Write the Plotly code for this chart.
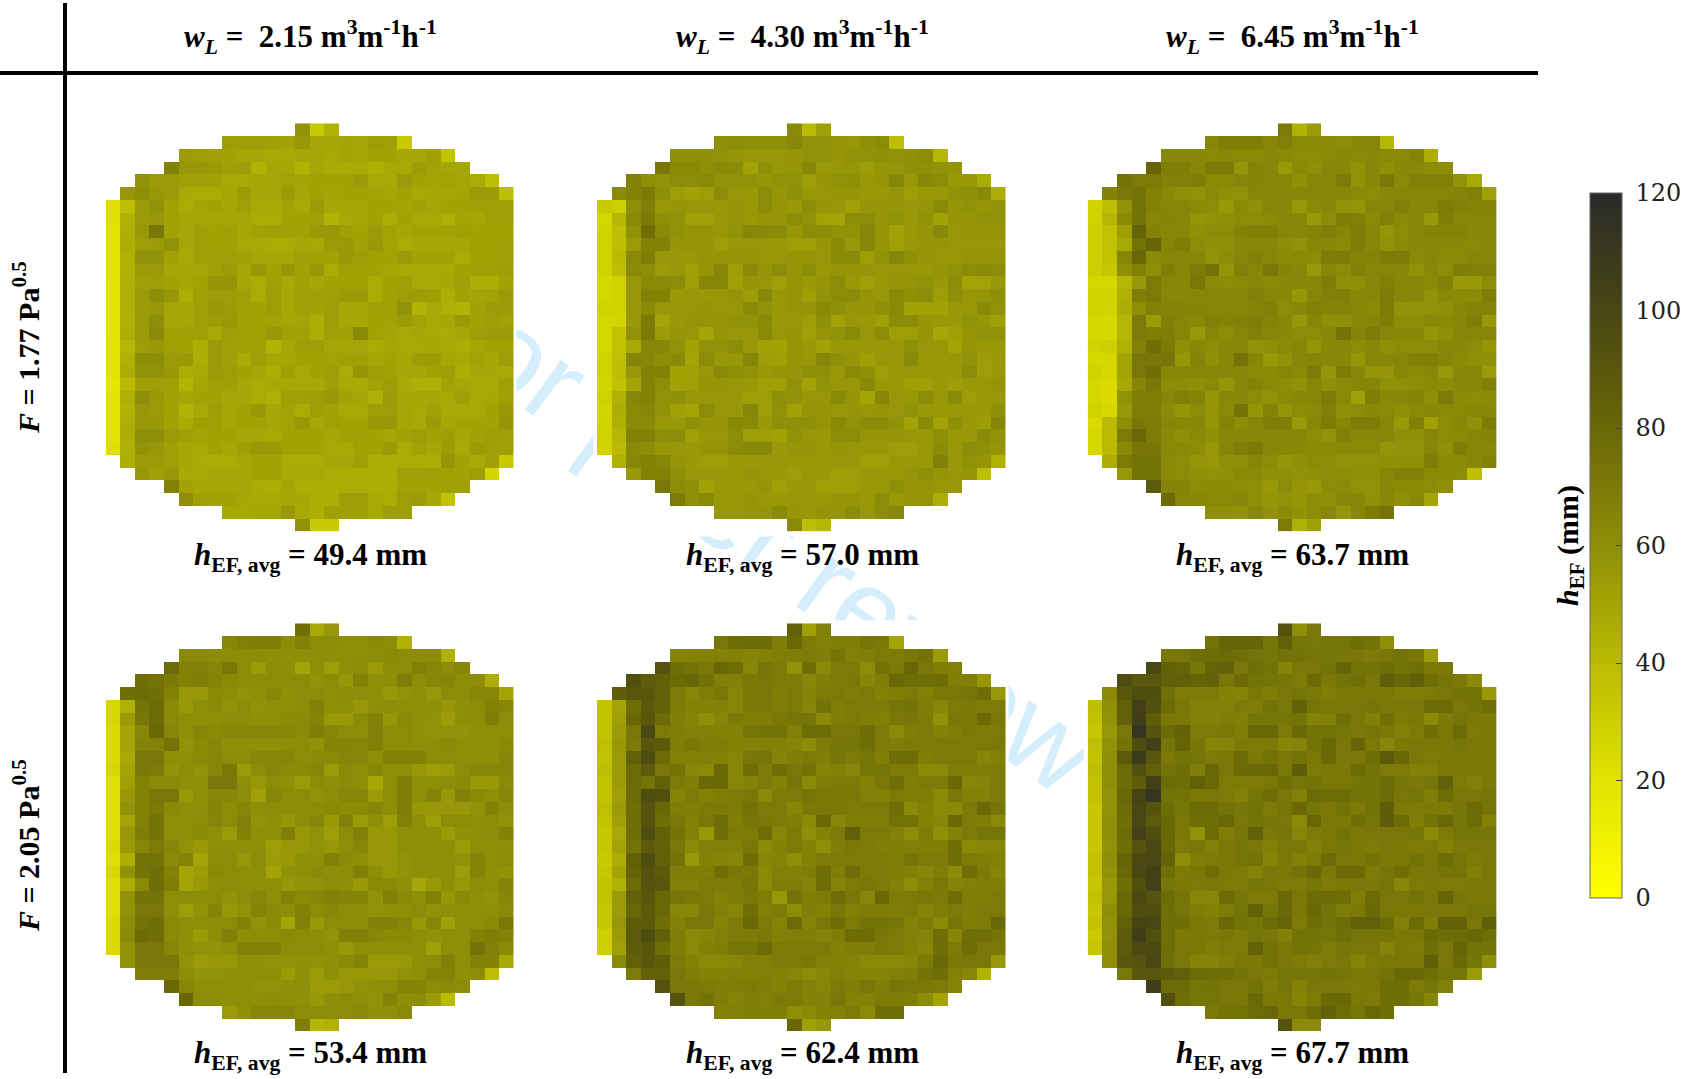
import plotly.graph_objects as go

W, H = 1690, 1079

ROW_START = [13,8,5,4,2,1]+[0]*20+[1,2,4,5,8,13]

COL_LABELS = ["2.15", "4.30", "6.45"]
ROW_LABELS = ["1.77", "2.05"]
AVG_LABELS = [["49.4", "57.0", "63.7"], ["53.4", "62.4", "67.7"]]
CB_TICKS = [0, 20, 40, 60, 80, 100, 120]

F177_W215 = [
[58,33,44],
[53,53,53,52,51,55,49,49,50,49,53,52,33],
[54,53,52,51,49,49,48,48,49,49,48,50,49,51,51,49,49,52,36],
[66,56,56,54,52,53,43,49,49,43,49,47,47,47,45,48,48,53,51,49,49],
[58,54,54,52,52,51,48,48,49,49,51,50,51,51,51,54,48,48,54,51,50,51,49,47,38],
[56,60,56,54,48,47,47,49,54,49,49,54,49,51,50,51,51,50,49,51,48,49,49,50,54,54,38],
[22,38,54,58,51,47,50,51,49,52,48,48,51,48,54,49,49,49,51,51,50,51,49,51,51,52,52,52],
[22,44,54,56,51,49,49,49,49,49,47,47,51,51,52,43,48,49,51,46,51,48,48,45,50,49,52,52],
[20,46,55,72,51,49,52,51,52,49,51,52,52,51,55,55,52,51,54,51,49,51,51,51,52,51,51,51],
[20,46,53,54,58,49,52,51,51,48,48,47,47,49,48,54,55,51,55,50,47,49,49,49,49,51,51,52],
[20,44,58,58,51,48,52,52,52,51,49,49,49,52,51,51,55,53,51,51,54,51,51,51,47,51,51,52],
[20,44,54,54,49,49,49,52,54,49,56,51,56,51,56,47,52,51,51,49,48,48,48,48,51,52,52,53],
[19,45,52,53,51,49,51,57,57,49,47,52,48,51,49,51,51,51,47,51,52,48,48,49,52,46,46,51],
[19,46,54,60,56,46,52,53,53,52,47,53,48,52,52,52,54,54,47,51,53,53,52,46,51,50,51,54],
[19,45,54,56,49,49,52,55,54,52,51,53,48,52,51,53,49,49,52,51,58,43,48,45,43,51,54,54],
[19,44,54,60,49,49,52,53,55,51,51,51,49,50,46,53,49,49,51,51,54,51,48,49,54,51,53,51],
[19,46,54,62,51,52,52,48,53,52,51,55,52,51,46,52,52,62,51,50,48,49,48,47,49,53,54,54],
[20,42,53,55,52,51,46,54,52,51,52,43,49,53,53,49,49,49,47,49,48,48,49,48,46,49,51,51],
[20,44,60,60,54,55,46,54,52,47,52,49,49,51,51,51,52,52,49,51,49,53,53,49,48,51,49,53],
[20,46,58,58,55,46,48,54,53,51,49,46,52,48,51,53,47,57,53,51,49,49,51,53,46,49,49,48],
[18,40,52,52,52,43,49,52,52,49,47,48,48,48,48,52,48,47,51,53,48,45,45,51,49,48,48,52],
[20,45,60,55,51,49,51,51,49,49,47,45,52,52,53,55,51,49,45,54,49,49,49,48,52,48,49,52],
[20,43,56,54,51,43,48,53,49,51,55,49,51,47,53,51,48,48,53,53,49,48,51,48,48,48,51,55],
[20,46,56,55,51,47,52,52,49,51,51,49,51,55,49,52,51,51,55,55,49,48,54,49,51,51,51,57],
[20,46,60,60,54,52,50,51,51,49,49,48,51,51,51,49,51,52,51,49,51,53,51,53,49,51,53,52],
[22,45,58,56,52,49,48,51,49,52,55,55,51,51,51,48,48,51,51,54,47,51,49,53,48,54,52,52],
[46,54,54,52,49,47,47,47,49,51,51,47,47,47,49,49,52,46,46,47,47,46,57,51,48,52,33],
[56,52,56,48,48,49,49,49,51,51,48,48,48,47,46,46,46,46,52,52,52,51,51,53,27],
[66,51,49,49,49,49,47,46,49,46,46,46,47,47,46,46,51,51,51,52,52],
[60,52,51,51,49,48,48,49,49,46,46,53,53,48,47,53,54,49,36],
[48,48,49,49,55,48,46,52,52,52,48,53,53],
[58,32,32],
]

F177_W430 = [
[62,40,52],
[59,61,60,60,60,63,58,58,57,56,59,61,38],
[59,59,59,58,57,56,56,56,57,58,58,57,58,58,59,58,59,61,42],
[72,62,62,59,62,61,51,59,56,57,63,55,56,57,53,57,57,59,59,58,57],
[66,60,58,61,61,62,58,58,58,57,58,58,53,57,58,59,55,57,64,56,63,61,55,55,47],
[62,66,70,60,53,51,53,61,56,55,61,57,59,55,56,57,57,55,55,57,53,55,55,58,59,62,46],
[32,30,60,68,56,57,56,56,56,57,55,61,57,55,61,57,56,52,57,57,57,56,57,62,57,58,57,58],
[26,42,62,70,60,58,52,52,56,57,55,57,57,61,58,51,50,61,61,57,58,55,58,51,57,57,58,58],
[28,38,58,76,62,58,57,57,56,58,64,62,61,56,61,61,58,58,63,57,51,55,57,62,56,57,57,57],
[28,38,54,66,66,57,57,57,53,56,56,56,55,53,53,57,62,56,63,57,52,56,57,57,56,56,56,56],
[28,40,62,68,56,56,55,57,57,57,57,56,56,57,57,56,62,62,53,58,64,59,57,56,55,57,57,57],
[28,38,62,60,54,56,52,57,64,53,62,57,61,57,61,55,57,57,57,56,56,56,55,57,58,61,62,61],
[26,28,56,62,62,61,53,64,64,52,57,56,52,57,55,57,61,55,52,55,57,57,58,56,61,50,51,56],
[26,28,56,66,66,55,56,55,56,57,53,63,56,57,52,58,61,61,57,56,62,59,61,53,59,56,57,59],
[28,28,56,62,56,56,56,57,56,56,62,58,55,57,57,62,59,57,57,59,62,51,51,51,55,55,62,58],
[26,27,56,70,50,55,57,57,57,58,58,62,55,56,53,59,51,56,55,52,61,61,57,55,55,58,56,52],
[26,36,58,70,54,57,56,50,57,56,56,62,56,57,52,57,58,62,56,61,53,53,57,49,52,57,58,58],
[26,36,48,64,64,58,51,58,58,61,56,51,51,57,55,51,55,55,56,55,56,59,56,56,50,57,55,55],
[28,38,64,64,60,62,50,61,56,56,64,53,52,57,55,64,59,57,52,56,56,62,56,55,56,58,53,56],
[28,38,56,66,66,51,52,56,62,59,58,55,57,57,59,59,55,62,59,53,55,56,55,56,55,61,53,55],
[27,36,50,66,60,51,52,57,57,56,55,52,52,58,51,58,56,56,62,55,55,52,52,55,53,55,55,57],
[29,44,64,66,58,59,56,56,56,56,53,53,59,58,56,56,62,57,50,64,56,55,61,56,62,53,55,56],
[27,46,62,64,58,52,50,61,56,56,64,53,58,51,57,57,56,57,56,57,56,58,55,55,55,56,55,59],
[28,44,62,62,56,55,59,57,57,63,62,55,59,59,59,57,62,58,61,61,58,51,62,51,59,55,53,64],
[28,42,66,66,60,61,52,56,56,61,53,53,51,58,56,55,61,61,57,57,57,56,55,59,55,56,61,58],
[28,40,62,60,56,56,55,57,57,61,63,63,55,57,57,55,57,56,56,56,53,53,55,61,56,61,59,57],
[44,64,66,64,57,55,53,53,55,55,56,56,55,55,55,56,56,52,52,56,55,55,67,56,58,57,44],
[56,66,66,59,56,56,56,55,57,56,55,53,56,55,52,53,56,55,55,57,59,57,56,57,38],
[72,61,59,51,55,55,55,57,52,55,56,52,52,53,55,55,59,57,57,55,56],
[70,59,62,55,55,57,55,55,56,56,55,57,57,55,61,55,57,57,46],
[56,56,57,57,62,57,56,57,57,61,56,61,63],
[62,38,42],
]

F177_W645 = [
[70,44,54],
[64,68,68,68,64,67,62,62,62,61,63,63,42],
[63,63,63,62,63,62,62,63,62,61,61,62,63,62,63,62,62,65,46],
[82,68,68,63,69,69,57,65,63,55,62,59,63,63,58,63,59,63,63,61,61],
[74,70,70,67,67,68,62,62,64,65,64,64,59,64,64,70,58,63,71,62,67,67,67,58,48],
[66,72,74,66,63,59,58,62,59,58,64,63,63,63,64,63,63,62,61,64,64,63,64,64,65,67,52],
[28,38,58,74,66,64,64,62,61,55,62,59,64,63,56,62,64,58,57,64,64,67,64,64,69,67,65,65],
[28,42,62,74,64,65,64,57,58,59,61,61,62,64,63,55,61,68,67,62,67,62,63,56,68,64,64,64],
[30,36,52,82,66,64,63,59,61,61,65,67,67,64,64,65,68,64,68,63,57,61,63,65,65,65,63,64],
[30,36,48,74,82,65,68,61,59,59,63,63,63,61,58,64,64,62,68,63,58,62,63,63,63,63,62,63],
[30,36,64,80,62,64,64,64,58,61,64,67,64,62,62,61,69,69,65,65,69,69,62,64,62,62,64,63],
[30,34,60,66,60,68,64,69,74,57,67,64,72,65,63,55,64,61,67,64,64,63,58,63,61,68,67,67],
[26,26,42,56,70,64,63,72,62,61,62,64,62,63,63,63,68,59,59,63,67,64,64,62,67,55,55,61],
[28,28,44,68,70,63,63,64,64,64,63,67,64,63,56,64,67,67,63,64,69,64,63,58,63,62,61,68],
[28,27,46,60,66,65,65,65,64,64,64,65,67,61,63,67,65,65,63,62,69,58,58,58,59,63,65,65],
[26,25,42,70,54,67,64,63,67,65,67,68,65,63,56,64,59,59,63,64,68,61,61,62,62,64,68,56],
[26,25,42,70,68,68,64,56,64,61,64,67,64,63,61,61,63,74,65,69,64,63,63,57,59,64,64,64],
[28,30,44,66,76,70,59,63,61,64,64,58,59,62,64,57,63,63,61,63,59,61,61,61,63,63,61,57],
[26,26,50,72,72,73,56,65,59,63,74,64,55,58,63,64,63,63,57,64,63,64,67,67,64,62,59,59],
[28,26,50,72,76,63,63,64,64,64,64,62,62,64,62,69,57,69,63,57,57,63,62,63,56,63,63,54],
[26,24,48,64,72,61,61,59,62,57,63,65,62,61,58,64,59,62,64,64,59,59,61,62,61,63,63,67],
[26,24,58,68,68,64,67,65,57,63,63,61,58,62,63,64,69,62,52,68,63,63,65,59,70,62,61,62],
[28,26,56,68,68,61,57,61,57,62,74,57,65,57,61,62,67,59,61,63,62,59,62,63,62,62,63,63],
[24,40,60,72,70,64,63,63,57,65,61,64,68,68,55,63,69,63,69,69,63,55,67,52,61,63,58,69],
[26,40,70,80,70,62,59,62,59,63,63,63,64,64,64,61,58,67,63,63,64,59,59,64,61,62,64,65],
[26,40,62,72,72,63,62,61,56,64,68,70,63,63,63,62,62,62,62,62,57,58,58,64,59,68,64,63],
[46,70,74,74,62,61,57,56,59,59,64,61,57,59,61,61,58,58,58,59,59,59,68,62,62,64,66],
[56,74,74,62,61,59,58,59,62,62,59,59,58,59,61,61,59,59,64,67,67,62,62,61,38],
[88,65,65,61,62,62,61,59,55,61,57,55,61,62,58,58,63,62,62,61,59],
[78,64,63,62,62,63,59,57,58,57,61,59,64,63,59,63,59,63,50],
[59,59,58,63,58,61,58,61,64,57,64,69,74],
[70,44,52],
]

F205_W215 = [
[76,48,56],
[64,67,68,68,61,67,61,61,60,60,62,61,44],
[62,62,61,61,61,61,60,60,60,60,60,60,60,61,62,61,61,61,44],
[78,67,67,64,72,61,54,61,60,50,60,53,59,61,54,61,61,67,64,61,64],
[76,74,70,66,68,65,62,61,61,61,61,61,58,61,56,66,60,60,68,61,64,64,60,60,46],
[76,78,76,66,56,56,62,61,58,59,64,59,61,61,60,61,60,60,56,58,59,56,61,61,64,64,50],
[26,44,74,78,62,55,60,62,58,61,58,59,59,61,67,60,60,56,60,61,60,59,59,56,60,61,66,64],
[26,54,72,78,62,60,59,59,61,61,59,59,62,62,65,55,55,61,66,56,62,60,58,53,60,61,68,61],
[24,50,64,80,64,60,64,62,64,64,64,64,64,62,68,64,61,60,67,61,61,59,58,58,58,60,60,60],
[24,50,66,66,74,58,62,64,59,59,59,59,60,61,58,65,65,64,67,61,61,60,60,62,60,60,60,62],
[24,48,72,72,60,60,62,64,61,61,64,64,64,61,62,62,64,64,60,66,66,66,61,61,60,60,60,64],
[26,50,72,70,58,61,58,64,71,54,61,64,62,62,64,54,62,60,64,60,60,56,53,54,61,64,64,64],
[22,52,66,62,62,60,60,72,72,60,56,61,59,54,61,60,62,60,49,60,68,60,60,61,62,55,55,62],
[22,56,66,72,72,55,60,64,64,61,52,64,61,61,58,61,64,64,54,60,68,60,65,56,67,62,60,64],
[22,58,66,70,62,60,60,65,61,64,60,61,60,61,61,62,61,61,64,60,68,56,56,56,56,58,66,61],
[22,50,66,74,59,60,61,64,61,67,58,60,56,61,64,55,67,54,60,53,67,60,53,61,61,60,61,58],
[22,56,68,74,59,60,62,60,54,66,60,60,68,56,58,53,61,67,56,56,60,60,60,54,59,60,61,66],
[24,54,64,70,64,58,55,60,60,60,60,53,56,56,58,56,59,64,56,56,60,59,60,60,54,60,60,60],
[22,46,74,74,62,65,50,61,61,56,61,54,55,59,59,67,62,60,56,56,58,60,60,60,58,65,60,61],
[26,58,74,76,66,50,53,62,61,60,60,50,58,60,61,60,61,67,60,56,58,60,60,60,53,65,59,58],
[22,46,62,76,68,50,55,60,61,60,60,60,56,58,58,61,60,55,62,62,60,49,55,60,56,61,60,65],
[22,58,74,74,60,61,61,61,58,61,64,60,66,62,64,67,65,65,58,67,62,60,66,56,62,60,58,64],
[22,58,72,72,60,53,58,65,56,58,65,62,60,66,61,64,61,61,58,60,60,61,58,60,60,60,60,62],
[24,60,74,76,62,60,60,61,61,66,58,62,50,67,55,61,61,61,67,67,64,55,64,52,60,60,62,71],
[24,62,78,76,62,59,54,60,67,60,60,60,62,61,60,58,67,67,64,62,62,60,58,60,60,66,68,66],
[24,58,72,72,64,60,58,58,60,66,66,66,61,61,61,60,55,59,60,60,60,60,52,60,60,74,67,62],
[58,72,72,72,58,54,56,56,59,59,58,58,59,58,59,62,65,54,54,55,60,61,67,60,66,66,48],
[68,68,68,61,58,58,59,59,60,60,54,59,54,59,56,55,56,56,58,60,65,65,59,61,38],
[80,64,60,60,60,60,58,58,59,60,54,54,56,58,59,60,65,65,61,62,61],
[80,61,61,60,60,59,61,60,59,56,60,61,60,58,65,60,61,54,40],
[54,59,64,64,64,61,61,61,61,62,59,59,62],
[68,42,44],
]

F205_W430 = [
[84,52,67],
[72,77,78,78,68,80,70,67,68,68,73,71,50],
[65,66,66,66,66,65,67,68,68,70,68,73,67,68,70,70,71,74,54],
[92,76,74,71,80,77,64,73,70,58,76,62,70,70,61,74,71,80,72,68,67],
[94,86,84,78,80,74,67,67,71,72,70,70,64,68,70,71,64,68,79,77,77,77,68,68,56],
[86,90,90,84,70,64,68,72,64,71,72,68,70,65,70,70,68,70,66,68,70,67,71,72,73,77,56],
[36,50,76,88,84,70,66,66,66,64,71,71,68,70,64,74,68,70,70,70,73,74,68,64,70,71,70,70],
[36,52,80,90,78,68,65,59,64,70,68,68,71,73,73,62,68,70,68,67,71,72,70,58,72,71,78,72],
[36,54,72,98,70,68,66,67,66,66,73,74,74,67,77,77,72,72,77,70,62,68,70,66,68,71,70,70],
[38,56,70,90,88,68,71,68,68,66,66,67,66,64,61,70,73,73,76,70,68,70,70,70,70,70,70,71],
[36,54,84,96,78,67,66,67,66,64,72,73,65,68,70,68,73,70,73,68,77,77,68,70,70,70,64,67],
[38,54,78,88,72,74,64,62,79,64,76,70,76,72,74,65,67,64,73,73,70,70,62,62,68,68,68,70],
[36,54,78,74,84,70,68,79,79,64,66,70,66,73,62,68,70,70,66,71,76,68,70,70,79,64,65,70],
[36,52,78,96,94,65,70,66,68,70,72,62,70,70,73,71,71,71,67,66,70,68,68,62,72,67,66,70],
[38,54,76,92,80,68,68,70,70,70,74,70,70,64,71,71,71,70,70,70,77,62,66,62,62,70,79,73],
[36,52,76,92,76,72,66,72,77,68,73,72,70,68,62,79,64,68,68,68,74,74,66,64,79,70,68,62],
[34,48,76,96,84,74,67,55,77,70,70,77,64,70,60,66,70,84,70,70,67,61,68,59,66,70,73,73],
[34,50,74,88,84,72,62,67,67,67,72,62,66,70,66,60,68,71,70,68,68,67,68,68,76,62,64,64],
[32,46,84,96,84,74,56,66,65,64,77,64,65,60,66,70,70,70,70,70,68,73,70,70,76,70,68,66],
[34,50,82,92,88,68,68,68,76,72,71,62,67,67,68,77,68,77,70,70,68,66,64,68,61,77,70,64],
[36,44,78,92,90,67,67,70,70,70,73,62,68,68,65,77,65,70,72,70,67,61,67,71,65,67,68,68],
[36,54,84,90,80,73,71,70,66,70,72,68,56,74,68,70,77,72,64,79,70,70,72,70,77,68,68,70],
[34,54,80,88,80,64,64,72,67,64,76,67,70,61,68,66,72,67,70,70,68,70,65,68,70,68,70,70],
[34,56,86,88,76,67,72,72,65,70,79,70,65,78,65,72,77,70,74,74,73,66,70,62,73,68,70,79],
[30,54,88,96,84,68,62,64,67,70,70,71,67,68,68,66,68,77,77,72,70,67,65,76,64,76,76,73],
[30,52,86,90,76,68,62,66,68,73,73,78,70,70,70,70,66,68,68,71,70,66,64,76,70,77,72,71],
[62,84,90,86,70,66,62,62,64,67,67,70,70,72,67,66,65,62,62,62,64,70,79,71,72,71,56],
[70,84,84,72,68,66,66,67,66,67,66,64,61,64,67,65,65,65,67,68,74,76,66,64,44],
[92,72,71,70,68,68,70,68,66,70,66,64,70,68,72,68,73,71,71,70,65],
[92,71,74,68,65,68,67,70,70,66,67,72,66,66,70,70,68,61,50],
[66,67,68,68,68,60,62,66,66,70,62,76,76],
[80,52,56],
]

F205_W645 = [
[92,60,72],
[74,82,82,82,73,84,73,72,73,73,76,74,60],
[71,72,76,77,78,76,74,73,74,74,73,73,72,72,70,72,74,72,54],
[100,84,82,73,82,83,72,76,74,65,71,72,74,82,74,74,77,74,76,71,71],
[96,90,90,84,84,82,83,72,78,74,73,73,70,78,71,74,76,72,85,80,85,77,73,71,62],
[62,90,96,96,76,70,70,70,66,65,71,68,72,73,71,68,71,71,71,71,68,68,70,72,74,74,56],
[38,60,84,104,94,78,72,67,67,66,70,68,74,72,83,73,71,72,72,73,71,71,72,78,78,72,74,76],
[36,58,84,106,86,72,71,67,66,68,67,73,73,73,74,66,67,76,72,67,76,70,71,62,70,73,71,71],
[34,56,72,112,92,78,83,70,70,71,68,80,80,70,79,74,74,73,71,73,71,67,70,76,71,78,70,71],
[38,58,74,96,104,73,82,72,64,65,70,70,70,64,65,74,79,72,82,71,64,70,72,71,71,73,71,71],
[36,60,88,108,90,71,74,73,70,71,78,71,74,71,74,71,79,72,71,76,88,80,71,70,71,71,71,71],
[38,60,78,94,84,74,76,68,80,72,79,79,80,71,86,70,71,71,78,74,70,70,67,67,71,71,71,71],
[36,60,78,86,104,78,76,84,79,70,70,70,71,76,73,74,71,71,73,74,78,73,71,73,84,70,67,71],
[36,58,80,102,112,74,74,71,72,70,67,73,77,72,67,78,77,77,74,74,78,72,73,68,77,72,72,73],
[34,58,78,100,92,77,73,78,78,74,73,74,70,73,79,73,71,74,70,74,86,70,70,70,70,73,78,73],
[34,60,76,100,88,80,72,77,77,80,72,74,73,72,62,80,71,71,76,73,86,78,68,74,80,73,78,66],
[34,60,78,104,96,80,71,58,78,68,73,84,71,73,64,70,71,74,71,72,72,72,73,62,70,73,73,73],
[34,58,76,92,100,80,70,72,67,71,73,72,67,72,72,67,71,73,71,70,72,71,70,70,66,71,72,72],
[36,60,82,98,100,83,61,68,70,71,73,74,65,71,67,70,78,72,71,74,71,71,74,71,77,73,70,72],
[36,58,80,100,104,76,70,71,76,71,70,65,72,71,74,79,71,78,78,70,73,76,71,72,73,73,67,71],
[34,56,76,94,104,73,71,70,71,70,70,73,72,70,70,73,70,71,72,71,73,64,70,71,70,70,71,72],
[36,56,80,98,92,78,73,64,64,78,73,70,70,79,72,78,78,77,68,78,72,72,74,71,82,73,71,71],
[34,60,80,96,96,77,73,68,66,70,73,83,73,80,71,79,74,70,71,79,72,71,71,72,72,71,73,73],
[36,58,84,102,100,76,76,71,70,79,74,73,78,82,70,77,74,77,84,84,78,67,78,68,83,83,72,85],
[32,58,88,106,94,77,71,71,70,72,70,73,72,67,74,74,73,76,73,73,73,71,72,78,77,78,80,76],
[34,60,88,98,98,77,72,71,68,70,70,83,74,71,74,73,70,73,72,72,65,71,70,76,72,82,74,74],
[60,90,92,100,76,72,65,65,68,71,71,74,72,70,67,70,72,65,70,71,71,71,85,72,79,73,60],
[72,90,90,88,84,78,77,76,74,72,70,73,73,73,74,73,71,72,74,79,79,76,73,73,54],
[106,78,78,73,74,72,72,74,68,73,66,72,72,71,70,71,76,77,70,73,67],
[94,76,73,73,72,71,79,71,71,65,70,79,79,71,70,76,77,73,64],
[71,74,74,78,80,71,71,77,83,77,73,80,76],
[92,62,62],
]

PANELS = [[F177_W215, F177_W430, F177_W645], [F205_W215, F205_W430, F205_W645]]

COLORSCALE = [
    [0/120, "rgb(255,255,0)"], [20/120, "rgb(226,226,0)"], [40/120, "rgb(186,186,4)"],
    [60/120, "rgb(142,142,8)"], [80/120, "rgb(105,103,6)"], [100/120, "rgb(72,70,18)"],
    [120/120, "rgb(42,42,42)"],
]

COLS_PX = [(105.7, 513.7), (597.0, 1005.5), (1087.7, 1496.5)]
ROWS_PX = [(123.3, 531.5), (623.3, 1031.0)]
COL_CX = [310, 802, 1292]
ROW_CY = [348, 846]
AVG_Y = [557, 1055]

fx = lambda p: p / W
fy = lambda p: 1 - p / H

fig = go.Figure()
layout_axes = {}
n = 0
for r in range(2):
    for c in range(3):
        n += 1
        xa = f"x{n}"
        ya = f"y{n}"
        z = []
        for start, row in zip(ROW_START, PANELS[r][c]):
            z.append([None] * start + list(row) + [None] * (28 - start - len(row)))
        fig.add_trace(go.Heatmap(z=z, xaxis=xa, yaxis=ya, coloraxis="coloraxis",
                                 xgap=0, ygap=0, hoverongaps=False))
        layout_axes[f"xaxis{n}"] = dict(domain=[fx(COLS_PX[c][0]), fx(COLS_PX[c][1])],
                                        range=[-0.5, 27.5], visible=False, anchor=ya, fixedrange=True)
        layout_axes[f"yaxis{n}"] = dict(domain=[fy(ROWS_PX[r][1]), fy(ROWS_PX[r][0])],
                                        range=[31.5, -0.5], visible=False, anchor=xa, fixedrange=True)

BOLD = "Liberation Serif"
anns = []
def text(x, y, s, size=31, angle=0, font=BOLD):
    anns.append(dict(x=fx(x), y=fy(y), xref="paper", yref="paper", text=s, showarrow=False,
                     xanchor="center", yanchor="middle", textangle=angle,
                     font=dict(family=font, size=size, color="#000000")))

for c, lab in enumerate(COL_LABELS):
    text(COL_CX[c], 37, f"<b><i>w<sub>L</sub></i> =  {lab} m<sup>3</sup>m<sup>-1</sup>h<sup>-1</sup></b>")
for r, lab in enumerate(ROW_LABELS):
    text(26, ROW_CY[r], f"<b><i>F</i> = {lab} Pa<sup>0.5</sup></b>", size=30, angle=-90)
    for c in range(3):
        text(COL_CX[c], AVG_Y[r], f"<b><i>h</i><sub>EF, avg</sub> = {AVG_LABELS[r][c]} mm</b>")
text(1570, 546, "<b><i>h</i><sub>EF</sub> (mm)</b>", size=30, angle=-90)

shapes = [
    # watermark sits under everything; each panel's white box hides it
    dict(type="rect", xref="paper", yref="paper", layer="below",
         x0=fx(864 - 500), x1=fx(864 + 500), y0=fy(593 + 100), y1=fy(593 - 100),
         line=dict(width=0), fillcolor="rgba(0,0,0,0)",
         label=dict(text="For peer review only", textangle=36, textposition="middle center",
                    font=dict(family="Liberation Sans", size=116, color="#d4eefc"))),
]
for (x0, x1) in COLS_PX:
    for (y0, y1) in ROWS_PX:
        shapes.append(dict(type="rect", xref="paper", yref="paper", layer="below",
                           x0=fx(x0 - 4), x1=fx(x1 + 3), y0=fy(y1 + 5), y1=fy(y0 - 3),
                           fillcolor="#ffffff", line=dict(width=0)))
shapes += [
    dict(type="rect", xref="paper", yref="paper", x0=fx(63), x1=fx(67), y0=fy(1073), y1=fy(3),
         fillcolor="#000000", line=dict(width=0)),
    dict(type="rect", xref="paper", yref="paper", x0=0, x1=fx(1538), y0=fy(75), y1=fy(71),
         fillcolor="#000000", line=dict(width=0)),
]

fig.update_layout(
    width=W, height=H, margin=dict(l=0, r=0, t=0, b=0, pad=0),
    paper_bgcolor="#ffffff", plot_bgcolor="rgba(0,0,0,0)",
    showlegend=False, shapes=shapes, annotations=anns,
    coloraxis=dict(
        cmin=0, cmax=120, colorscale=COLORSCALE,
        colorbar=dict(
            x=fx(1590), xanchor="left", xpad=0, y=fy(898), yanchor="bottom", ypad=0,
            thickness=32, thicknessmode="pixels", len=705, lenmode="pixels",
            tickmode="array", tickvals=CB_TICKS, ticktext=[f"\u00a0{t}" for t in CB_TICKS],
            ticks="inside", ticklen=6, tickwidth=1, tickcolor="#444444",
            tickfont=dict(family="DejaVu Serif", size=24, color="#222222"),
            outlinecolor="#666666", outlinewidth=1,
        ),
    ),
    **layout_axes,
)

fig.write_html("out.html", config={"displayModeBar": False},
               post_script="document.body.style.margin='0';document.documentElement.style.overflow='hidden';")
